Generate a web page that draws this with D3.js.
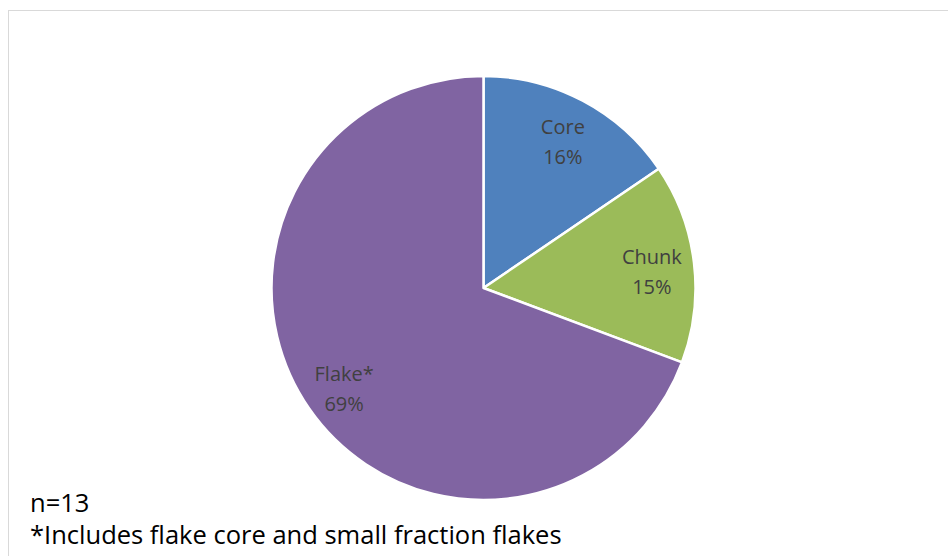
<!DOCTYPE html>
<html><head><meta charset="utf-8">
<script src="https://cdn.jsdelivr.net/npm/d3@7"></script>
<style>body{margin:0;background:#fff}svg{display:block}</style>
</head><body>
<svg id="c" width="948" height="556"></svg>
<script>
const categories = ["Core", "Chunk", "Flake*"];
const values = [15.5, 15.2, 69.3];
const labels = ["16%", "15%", "69%"];
const colors = ["#4F81BD", "#9BBB59", "#8064A2"];
const notes = ["n=13", "*Includes flake core and small fraction flakes"];

const svg = d3.select("#c");
const W = 948, H = 556;
svg.append("rect").attr("x", 0).attr("y", 0).attr("width", W).attr("height", H).attr("fill", "#fff");
svg.append("rect").attr("x", 8.5).attr("y", 10.5).attr("width", W + 10).attr("height", H + 10)
  .attr("fill", "none").attr("stroke", "#d9d9d9").attr("stroke-width", 1);

const cx = 483.5, cy = 288, r = 212;
const pie = d3.pie().sort(null).value(d => d);
const arcs = pie(values);
const arc = d3.arc().innerRadius(0).outerRadius(r);
const g = svg.append("g").attr("transform", `translate(${cx},${cy})`);
g.selectAll("path").data(arcs).join("path")
  .attr("d", arc).attr("fill", (d, i) => colors[i])
  .attr("stroke", "#fff").attr("stroke-width", 2.5).attr("stroke-linejoin", "round");

const labelArc = d3.arc().innerRadius(r * 0.8).outerRadius(r * 0.8);
const font = "'Open Sans', sans-serif";
arcs.forEach((d, i) => {
  const [x, y] = labelArc.centroid(d);
  const t = g.append("text").attr("text-anchor", "middle").attr("fill", "#404040")
    .style("font-family", font).style("font-size", "20px");
  t.append("tspan").attr("x", x).attr("y", y - 4).text(categories[i]);
  t.append("tspan").attr("x", x).attr("y", y + 26).text(labels[i]);
});

const n1 = svg.append("text").attr("x", 30).attr("y", 512).attr("fill", "#000")
  .style("font-family", font).style("font-size", "22px").text(notes[0]);
const n2 = svg.append("text").attr("x", 30).attr("y", 544).attr("fill", "#000")
  .style("font-family", font).style("font-size", "22px").text(notes[1]);
const w = n2.node().getComputedTextLength();
const fs = 22 * 532 / w;
n1.style("font-size", fs + "px");
n2.style("font-size", fs + "px");
</script>
</body></html>
